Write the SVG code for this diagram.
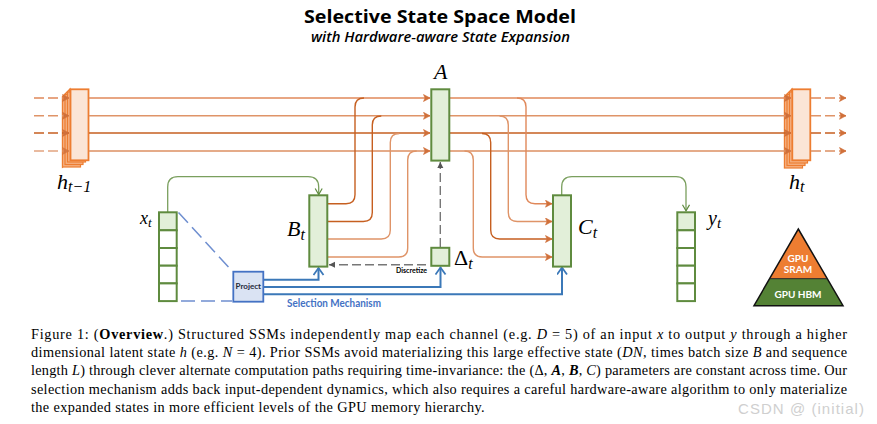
<svg xmlns="http://www.w3.org/2000/svg" width="877" height="424" viewBox="0 0 877 424">
<style>
text{font-family:"Liberation Serif",serif;fill:#000}
.l1,.l2,.l3,.l4{fill:none;stroke-width:1.4}
.l1{stroke:#e0885a}.l2{stroke:#df9468}.l3{stroke:#c65f20}.l4{stroke:#dc8f62}
.d{stroke-dasharray:10 4}
.st{fill:#f4b183;stroke:#ed7d31;stroke-width:1.2}
.fr{fill:#fbe5d6;stroke:#ed7d31;stroke-width:1.8}
.gb{fill:#e2efd9;stroke:#5f8b3f;stroke-width:2}
.gw{fill:#fff;stroke:#5f8b3f;stroke-width:2}
.gl{fill:none;stroke:#7a9f5e;stroke-width:1.3}
.bl{fill:none;stroke:#3b78b8;stroke-width:2}
.bd{fill:none;stroke:#6f8fd0;stroke-width:1.5;stroke-dasharray:14 6}
.gy{fill:none;stroke:#777;stroke-width:1.4;stroke-dasharray:9 4}
.m{font-style:italic;font-size:22px}
.s{font-size:16px}
.c{font-size:14.3px}
.i{font-style:italic}
.p{font-family:"Lato",sans-serif;font-weight:700;fill:#fff;font-size:10px;text-anchor:middle}
.k{font-family:"Lato",sans-serif;font-weight:700}
</style>
<defs>
<marker id="ao" markerWidth="10" markerHeight="10" refX="7.5" refY="4" orient="auto" markerUnits="userSpaceOnUse"><path d="M1 .5L7.5 4L1 7.5L2.5 4Z" fill="#d0703a" stroke="#d0703a" stroke-width=".6"/></marker>
<marker id="ag" markerWidth="10" markerHeight="10" refX="7" refY="4" orient="auto" markerUnits="userSpaceOnUse"><path d="M1 .5L7 4L1 7.5" fill="none" stroke="#5f8b3f" stroke-width="1.2"/></marker>
<marker id="ab" markerWidth="12" markerHeight="12" refX="8" refY="5.5" orient="auto" markerUnits="userSpaceOnUse"><path d="M1 .5L8 5.5L1 10.5" fill="none" stroke="#3b78b8" stroke-width="1.8"/></marker>
<marker id="ay" markerWidth="8" markerHeight="8" refX="6" refY="3" orient="auto" markerUnits="userSpaceOnUse"><path d="M0 0L6 3L0 6Z" fill="#555"/></marker>
</defs>

<text x="440" y="23" text-anchor="middle" style="font-family:'Open Sans',sans-serif;font-weight:700;font-size:18px" textLength="272" lengthAdjust="spacingAndGlyphs">Selective State Space Model</text>
<text x="440.500" y="42" text-anchor="middle" style="font-family:'Open Sans',sans-serif;font-weight:600;font-style:italic;font-size:14px" textLength="259" lengthAdjust="spacingAndGlyphs">with Hardware-aware State Expansion</text>

<g id="h-prev">
<path class="st" d="M62.500 96.500L70 89V160L62.500 167Z"/>
<rect class="st" x="62.500" y="97" width="18" height="70"/>
<rect class="st" x="65" y="94.500" width="18" height="70"/>
<rect class="st" x="67.500" y="92" width="18" height="70"/>
<rect class="fr" x="70.500" y="89.300" width="18" height="71"/>
<text class="m" x="57" y="188.500">h<tspan class="s" dy="3.500">t−1</tspan></text>
</g>
<g id="h-next">
<path class="st" d="M784.500 96.500L792 89V160L784.500 167Z"/>
<rect class="st" x="784.500" y="97" width="18" height="71"/>
<rect class="st" x="787" y="94.500" width="18" height="71"/>
<rect class="st" x="789.500" y="92" width="18" height="71"/>
<rect class="fr" x="792.300" y="89.300" width="18" height="71"/>
<text class="m" x="789" y="188.500">h<tspan class="s" dy="3.500">t</tspan></text>
</g>

<g id="connectors">
<g marker-end="url(#ao)">
<path class="l1 d" d="M34 98H69"/><path class="l2 d" d="M34 115.800H69"/><path class="l3 d" d="M34 133H69"/><path class="l4 d" style="opacity:.8" d="M34 151H69"/>
<path class="l1 d" d="M811 98H846"/><path class="l2 d" d="M811 115.800H846"/><path class="l3 d" d="M811 133H846"/><path class="l4 d" d="M811 151H846"/>
<path class="l1" d="M89 98H430"/><path class="l2" d="M89 115.800H430"/><path class="l3" d="M89 133H430"/><path class="l4" d="M89 151H430"/>
<path class="l1" d="M450 98H791"/><path class="l2" d="M450 115.800H791"/><path class="l3" d="M450 133H791"/><path class="l4" d="M450 151H791"/>
<path class="l1" d="M517 98Q526 98 526 107V194.700Q526 203.700 535 203.700H552"/>
<path class="l2" d="M499.500 116Q508.300 116 508.300 125V212.500Q508.300 221.500 517.300 221.500H552"/>
<path class="l3" d="M482 133.500Q490.700 133.500 490.700 142.500V230Q490.700 239 499.700 239H552"/>
<path class="l2" d="M464.500 151Q473.300 151 473.300 160V248Q473.300 257 482.300 257H552"/>
</g>
<path class="l3" d="M328 203.700H346Q355 203.700 355 194.700V107Q355 98 364 98"/>
<path class="l3" d="M328 221.500H363.300Q372.300 221.500 372.300 212.500V125Q372.300 116 381.300 116"/>
<path class="l2" d="M328 239H381.300Q390.300 239 390.300 230V142.500Q390.300 133.500 399.300 133.500"/>
<path class="l2" d="M328 257H398.700Q407.700 257 407.700 248V160Q407.700 151 416.700 151"/>

<path class="gl" marker-end="url(#ag)" d="M167.700 212V187Q167.700 176.700 178 176.700H308Q318.700 176.700 318.700 187V194.500"/>
<path class="gl" marker-end="url(#ag)" d="M561.700 195V187Q561.700 176.700 572 176.700H676Q686 176.700 686 187V210.800"/>

<path class="bl" marker-end="url(#ab)" d="M264 279.700H318.500V268"/>
<path class="bl" marker-end="url(#ab)" d="M264 287H440.500V267.500"/>
<path class="bl" marker-end="url(#ab)" d="M264 294.300H562V267.500"/>
<path class="bd" d="M178.500 212.500L232 271"/>
<path class="bd" d="M181 301H232"/>
<path class="gy" marker-end="url(#ay)" d="M440.300 247V162"/>
<path class="gy" marker-end="url(#ay)" d="M426 264.700H329"/>
</g>

<g id="A"><rect class="gb" x="431.300" y="89.300" width="18" height="71.300"/><text class="m" x="434" y="79">A</text></g>
<g id="B"><rect class="gb" x="309.300" y="195.300" width="18" height="71.300"/><text class="m" x="287" y="236">B<tspan class="s" dy="3.500">t</tspan></text></g>
<g id="C"><rect class="gb" x="553" y="195.300" width="18" height="71.300"/><text class="m" x="578" y="234">C<tspan class="s" dy="3.500">t</tspan></text></g>
<g id="Delta"><rect class="gb" x="431.300" y="247.800" width="18" height="18"/><text class="m" x="454" y="265" style="font-style:normal">Δ<tspan class="s i" dy="3.500">t</tspan></text></g>
<g id="x">
<rect class="gb" x="159" y="212.300" width="17.700" height="18"/>
<rect class="gw" x="159" y="230.300" width="17.700" height="17.700"/>
<rect class="gw" x="159" y="248" width="17.700" height="17.700"/>
<rect class="gw" x="159" y="265.700" width="17.700" height="17.700"/>
<rect class="gw" x="159" y="283.400" width="17.700" height="17.700"/>
<text class="m" x="140" y="224" style="font-size:18px">x<tspan dy="3" font-size="13px">t</tspan></text>
</g>
<g id="y">
<rect class="gb" x="677.300" y="212.300" width="17.700" height="18"/>
<rect class="gw" x="677.300" y="230.300" width="17.700" height="17.700"/>
<rect class="gw" x="677.300" y="248" width="17.700" height="17.700"/>
<rect class="gw" x="677.300" y="265.700" width="17.700" height="17.700"/>
<rect class="gw" x="677.300" y="283.400" width="17.700" height="17.700"/>
<text class="m" x="708" y="225" style="font-size:20px">y<tspan dy="3" font-size="15px">t</tspan></text>
</g>
<g id="project">
<rect x="233.300" y="271.700" width="30" height="30" fill="#dae3f3" stroke="#4472c4" stroke-width="1.800"/>
<text class="k" x="248.300" y="289" text-anchor="middle" style="font-size:8px;fill:#1f2a3a">Project</text>
</g>
<text class="k" x="287" y="306.500" style="font-size:10.500px;fill:#4472c4" textLength="94" lengthAdjust="spacingAndGlyphs">Selection Mechanism</text>
<text class="k" x="396" y="273" style="font-size:7.500px" textLength="31" lengthAdjust="spacingAndGlyphs">Discretize</text>

<g id="memory-pyramid">
<path d="M798.300 229L827 278.700H769.700Z" fill="#ed7d31"/>
<path d="M769.700 278.700H827L843 305.700H754Z" fill="#548235"/>
<path d="M798.300 229L843 305.700H754Z" fill="none" stroke="#111" stroke-width="1.500"/>
<path d="M769.700 278.700H827" stroke="#222" stroke-width="1"/>
<text class="p" x="798" y="262">GPU</text>
<text class="p" x="798" y="273">SRAM</text>
<text class="p" x="798" y="298">GPU HBM</text>
</g>

<g id="caption">
<text class="c" x="31" y="339" textLength="816" lengthAdjust="spacing">Figure 1: (<tspan font-weight="700">Overview</tspan>.) Structured SSMs independently map each channel (e.g. <tspan class="i">D</tspan> = 5) of an input <tspan class="i">x</tspan> to output <tspan class="i">y</tspan> through a higher</text>
<text class="c" x="31" y="357" textLength="816" lengthAdjust="spacing">dimensional latent state <tspan class="i">h</tspan> (e.g. <tspan class="i">N</tspan> = 4). Prior SSMs avoid materializing this large effective state (<tspan class="i">DN</tspan>, times batch size <tspan class="i">B</tspan> and sequence</text>
<text class="c" x="31" y="375" textLength="816" lengthAdjust="spacing">length <tspan class="i">L</tspan>) through clever alternate computation paths requiring time-invariance: the (Δ, <tspan class="i" font-weight="700">A</tspan>, <tspan class="i" font-weight="700">B</tspan>, <tspan class="i">C</tspan>) parameters are constant across time. Our</text>
<text class="c" x="31" y="393.500" textLength="816" lengthAdjust="spacing">selection mechanism adds back input-dependent dynamics, which also requires a careful hardware-aware algorithm to only materialize</text>
<text class="c" x="31" y="411.500" textLength="453.700" lengthAdjust="spacing">the expanded states in more efficient levels of the GPU memory hierarchy.</text>
</g>
<text x="738" y="414" style="font-family:'Liberation Sans',sans-serif;font-size:15px;fill:#cfcfcf" textLength="126" lengthAdjust="spacing">CSDN @  (initial)</text>
</svg>
